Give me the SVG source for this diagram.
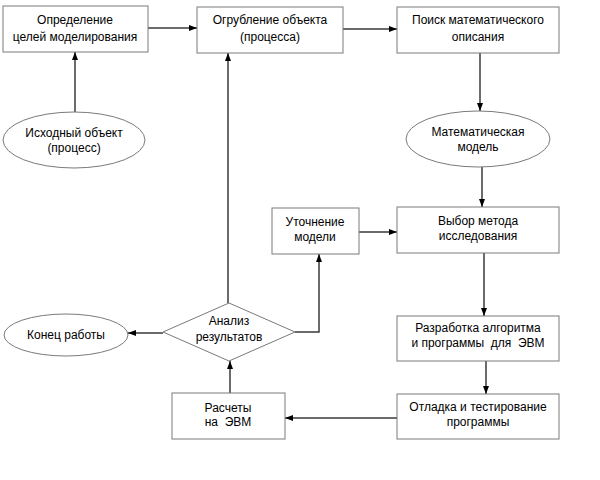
<svg xmlns="http://www.w3.org/2000/svg" width="600" height="480" viewBox="0 0 600 480">
<defs>
<style>
.n{fill:#fff;stroke:#7a7a7a;stroke-width:1}
.t{font-family:"Liberation Sans",Arial,sans-serif;font-size:12px;fill:#000;text-anchor:middle}
.c{fill:none;stroke:#3a3a3a;stroke-width:1.5}
</style>
<marker id="a" markerWidth="8" markerHeight="6" refX="8" refY="3" orient="auto" markerUnits="userSpaceOnUse">
<path d="M0,0 L8,3 L0,6 Z" fill="#000"/>
</marker>
</defs>
<rect width="600" height="480" fill="#fff"/>
<g id="connectors">
<line class="c" x1="148" y1="28" x2="197" y2="28" marker-end="url(#a)"/>
<line class="c" x1="343" y1="29" x2="397" y2="29" marker-end="url(#a)"/>
<line class="c" x1="75" y1="112" x2="75" y2="52" marker-end="url(#a)"/>
<line class="c" x1="228" y1="303" x2="228" y2="53" marker-end="url(#a)"/>
<line class="c" x1="480" y1="53" x2="480" y2="111" marker-end="url(#a)"/>
<line class="c" x1="482" y1="167" x2="482" y2="207" marker-end="url(#a)"/>
<line class="c" x1="359" y1="232" x2="397" y2="232" marker-end="url(#a)"/>
<polyline class="c" points="295,332 319,332 319,254" marker-end="url(#a)"/>
<line class="c" x1="163" y1="333" x2="128" y2="333" marker-end="url(#a)"/>
<line class="c" x1="230" y1="393" x2="230" y2="361" marker-end="url(#a)"/>
<line class="c" x1="484" y1="253" x2="484" y2="316" marker-end="url(#a)"/>
<line class="c" x1="486" y1="361" x2="486" y2="394" marker-end="url(#a)"/>
<line class="c" x1="397" y1="418" x2="285" y2="418" marker-end="url(#a)"/>
</g>
<g id="goals">
<rect class="n" x="3" y="6" width="145" height="46"/>
<text class="t" x="75" y="24">Определение</text>
<text class="t" x="75" y="41">целей моделирования</text>
</g>
<g id="coarsen">
<rect class="n" x="197" y="7" width="146" height="46"/>
<text class="t" x="270" y="24">Огрубление объекта</text>
<text class="t" x="270" y="41">(процесса)</text>
</g>
<g id="search">
<rect class="n" x="397" y="7" width="162" height="46"/>
<text class="t" x="478" y="24">Поиск математического</text>
<text class="t" x="478" y="41">описания</text>
</g>
<g id="source">
<ellipse class="n" cx="74" cy="140" rx="71" ry="28"/>
<text class="t" x="74" y="137">Исходный объект</text>
<text class="t" x="74" y="152">(процесс)</text>
</g>
<g id="mathmodel">
<ellipse class="n" cx="478" cy="139" rx="72" ry="28"/>
<text class="t" x="478" y="136">Математическая</text>
<text class="t" x="478" y="151">модель</text>
</g>
<g id="refine">
<rect class="n" x="272" y="208" width="87" height="46"/>
<text class="t" x="315" y="226">Уточнение</text>
<text class="t" x="315" y="241">модели</text>
</g>
<g id="method">
<rect class="n" x="397" y="207" width="162" height="46"/>
<text class="t" x="478" y="225">Выбор метода</text>
<text class="t" x="478" y="240">исследования</text>
</g>
<g id="analysis">
<polygon class="n" points="229,303 295,332 229,361 163,332"/>
<text class="t" x="229" y="325">Анализ</text>
<text class="t" x="229" y="341">результатов</text>
</g>
<g id="end">
<ellipse class="n" cx="66" cy="335" rx="62" ry="21"/>
<text class="t" x="66" y="339">Конец работы</text>
</g>
<g id="algorithm">
<rect class="n" x="397" y="316" width="162" height="45"/>
<text class="t" x="478" y="332">Разработка алгоритма</text>
<text class="t" x="478" y="347" xml:space="preserve">и программы  для  ЭВМ</text>
</g>
<g id="debug">
<rect class="n" x="397" y="394" width="162" height="45"/>
<text class="t" x="478" y="411">Отладка и тестирование</text>
<text class="t" x="478" y="426">программы</text>
</g>
<g id="compute">
<rect class="n" x="172" y="393" width="113" height="46"/>
<text class="t" x="228" y="412">Расчеты</text>
<text class="t" x="228" y="426" xml:space="preserve">на  ЭВМ</text>
</g>
</svg>
